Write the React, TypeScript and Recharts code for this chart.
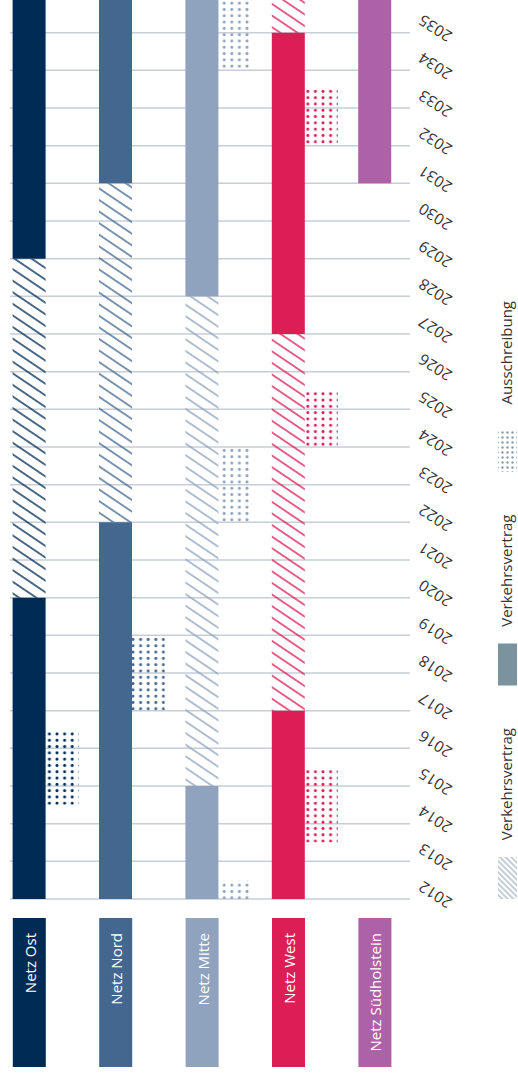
import React from 'react';
import { BarChart, Bar, XAxis, YAxis, CartesianGrid, Cell, Legend } from 'recharts';

type Kind = 'solid' | 'hatch';

// Categories
const networks = ['Netz Ost', 'Netz Nord', 'Netz Mitte', 'Netz West', 'Netz Südholstein'];

// Year tick labels
const years = [2012, 2013, 2014, 2015, 2016, 2017, 2018, 2019, 2020, 2021, 2022, 2023,
  2024, 2025, 2026, 2027, 2028, 2029, 2030, 2031, 2032, 2033, 2034, 2035];
const yearDomain = [2012, 2036];

// Verkehrsvertrag segments: [from, to, kind]
const ostContracts: [number, number, Kind][] = [[2012, 2020, 'solid'], [2020, 2029, 'hatch'], [2029, 2036, 'solid']];
const nordContracts: [number, number, Kind][] = [[2012, 2022, 'solid'], [2022, 2031, 'hatch'], [2031, 2036, 'solid']];
const mitteContracts: [number, number, Kind][] = [[2012, 2015, 'solid'], [2015, 2028, 'hatch'], [2028, 2036, 'solid']];
const westContracts: [number, number, Kind][] = [[2012, 2017, 'solid'], [2017, 2027, 'hatch'], [2027, 2035, 'solid'], [2035, 2036, 'hatch']];
const suedholsteinContracts: [number, number, Kind][] = [[2031, 2036, 'solid']];

// Ausschreibung periods: [from, to]
const ostTenders: [number, number][] = [[2014.5, 2016.5]];
const nordTenders: [number, number][] = [[2017, 2019]];
const mitteTenders: [number, number][] = [[2012, 2012.5], [2022, 2024], [2034, 2036]];
const westTenders: [number, number][] = [[2013.5, 2015.5], [2024, 2025.5], [2032, 2033.5]];
const suedholsteinTenders: [number, number][] = [];

// Legend
const legendLabels = ['Verkehrsvertrag', 'Verkehrsvertrag', 'Ausschreibung'];
const legendKinds = ['hatch', 'solid', 'dots'];

// Styles
const colors = ['#002b55', '#44678f', '#8fa3be', '#dc1e55', '#ad62a8'];
const legendColor = '#7b939f';
const legendPatternColor = '#8a9eae';
const FONT = '"Open Sans", sans-serif';

const contracts = [ostContracts, nordContracts, mitteContracts, westContracts, suedholsteinContracts];
const tenders = [ostTenders, nordTenders, mitteTenders, westTenders, suedholsteinTenders];
const MAX_C = 4;
const MAX_T = 3;

const rows = networks.map((name, i) => {
  const row: Record<string, any> = { name };
  const c = contracts[i];
  row.cBase = c.length ? c[0][0] : 0;
  for (let k = 0; k < MAX_C; k++) {
    row['c' + k] = c[k] ? c[k][1] - c[k][0] : 0;
    row['ck' + k] = c[k] ? c[k][2] : 'solid';
  }
  const t = tenders[i];
  row.tBase = t.length ? t[0][0] : 0;
  for (let k = 0; k < MAX_T; k++) {
    row['t' + k] = t[k] ? t[k][1] - t[k][0] : 0;
    row['g' + k] = t[k + 1] ? t[k + 1][0] - t[k][1] : 0;
  }
  return row;
});

const YearTick = (props: any) => {
  const { x, y, payload } = props;
  const cx = x + 25;
  const cy = y - 4;
  return (
    <text x={cx} y={cy} transform={`rotate(-147 ${cx} ${cy})`} textAnchor="middle"
      dominantBaseline="central" fontSize={15.5} fill="#333333" fontFamily={FONT}>
      {payload.value}
    </text>
  );
};

const NetzTick = (props: any) => {
  const { x, y, payload } = props;
  const i = networks.indexOf(payload.value);
  const tx = x - 10;
  const ty = y + 34;
  return (
    <g>
      <rect x={x - 33} y={y + 19} width={33} height={149} fill={colors[i]} />
      <text x={tx} y={ty} transform={`rotate(-90 ${tx} ${ty})`} textAnchor="end"
        fill="#ffffff" fontSize={15} fontFamily={FONT}>
        {payload.value}
      </text>
    </g>
  );
};

const LegendContent = () => (
  <svg width={28} height={620} style={{ display: 'block', overflow: 'visible' }}>
    <defs>
      <pattern id="lg-hatch" patternUnits="userSpaceOnUse" width={6} height={4} patternTransform="rotate(45)">
        <line x1={0} y1={2} x2={6} y2={2} stroke={legendPatternColor} strokeWidth={1} />
      </pattern>
      <pattern id="lg-dots" patternUnits="userSpaceOnUse" width={5} height={5}>
        <circle cx={2.5} cy={2.5} r={1.2} fill={legendPatternColor} />
      </pattern>
    </defs>
    {legendLabels.map((label, k) => {
      const top = 567 - 213.5 * k;
      const tx = 21.5;
      const ty = top - 129;
      const kind = legendKinds[k];
      const fill = kind === 'solid' ? legendColor : kind === 'hatch' ? 'url(#lg-hatch)' : 'url(#lg-dots)';
      return (
        <g key={k}>
          <rect x={8} y={top} width={19} height={42} fill={fill} />
          <text x={tx} y={ty} transform={`rotate(-90 ${tx} ${ty})`} textAnchor="end"
            fontSize={15} fill="#333333" fontFamily={FONT}>
            {label}
          </text>
        </g>
      );
    })}
  </svg>
);

export default function App() {
  return (
    <div style={{ position: 'absolute', left: 0, top: 0, width: 518, height: 1079, background: '#fff' }}>
      <BarChart width={518} height={1079} data={rows} barGap={0} barSize={33}
        margin={{ top: -5, right: 0, bottom: 0, left: 10 }}>
        <defs>
          {colors.map((c, i) => (
            <pattern key={'h' + i} id={`hatch-${i}`} patternUnits="userSpaceOnUse" width={10} height={9.6}
              patternTransform="rotate(34)">
              <line x1={0} y1={4.8} x2={10} y2={4.8} stroke={c} strokeWidth={1.4} />
            </pattern>
          ))}
          {colors.map((c, i) => (
            <pattern key={'d' + i} id={`dots-${i}`} patternUnits="userSpaceOnUse" width={7.6} height={6.3}>
              <circle cx={3.8} cy={3.15} r={1.5} fill={c} />
            </pattern>
          ))}
        </defs>
        <CartesianGrid vertical={false} stroke="#c6ced8" strokeWidth={1.5} />
        <XAxis dataKey="name" type="category" height={180} axisLine={false} tickLine={false}
          tickSize={0} tickMargin={0} interval={0} tick={<NetzTick />}
          padding={{ left: -7.4, right: -24.6 }} />
        <YAxis type="number" orientation="right" width={108} domain={yearDomain} ticks={years}
          allowDataOverflow axisLine={false} tickLine={false} tickSize={0} tickMargin={0}
          interval={0} tick={<YearTick />} />
        <Legend layout="horizontal" align="center" verticalAlign="middle" content={<LegendContent />}
          wrapperStyle={{ left: 490, top: 290, width: 28, height: 620 }} />
        <Bar dataKey="cBase" stackId="c" fill="transparent" isAnimationActive={false} legendType="none" />
        {[0, 1, 2, 3].map(k => (
          <Bar key={'c' + k} dataKey={'c' + k} stackId="c" isAnimationActive={false} legendType="none">
            {rows.map((r, i) => (
              <Cell key={i} fill={r['ck' + k] === 'hatch' ? `url(#hatch-${i})` : colors[i]} />
            ))}
          </Bar>
        ))}
        <Bar dataKey="tBase" stackId="t" fill="transparent" isAnimationActive={false} legendType="none" />
        {[0, 1, 2].map(k => [
          <Bar key={'t' + k} dataKey={'t' + k} stackId="t" isAnimationActive={false} legendType="none">
            {rows.map((r, i) => <Cell key={i} fill={`url(#dots-${i})`} />)}
          </Bar>,
          <Bar key={'g' + k} dataKey={'g' + k} stackId="t" fill="transparent" isAnimationActive={false} legendType="none" />,
        ])}
      </BarChart>
    </div>
  );
}
